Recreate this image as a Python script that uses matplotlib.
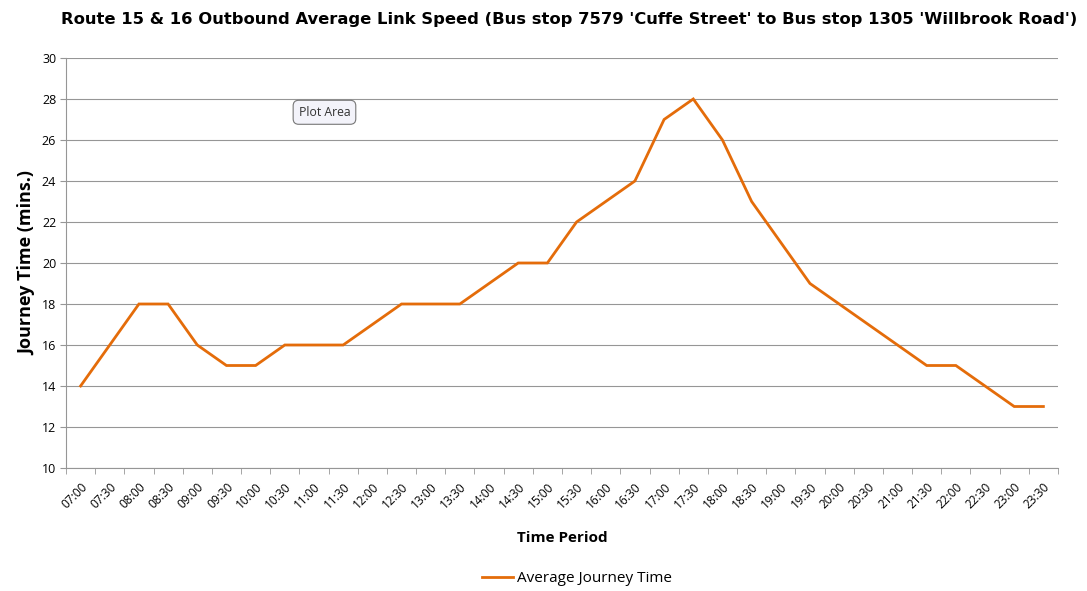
import matplotlib.pyplot as plt
import numpy as np

# half-hour time slots and average journey time (mins) per slot
periods = ["07:00", "07:30", "08:00", "08:30", "09:00", "09:30", "10:00", "10:30",
           "11:00", "11:30", "12:00", "12:30", "13:00", "13:30", "14:00", "14:30",
           "15:00", "15:30", "16:00", "16:30", "17:00", "17:30", "18:00", "18:30",
           "19:00", "19:30", "20:00", "20:30", "21:00", "21:30", "22:00", "22:30",
           "23:00", "23:30"]
journey_time = [14, 16, 18, 18, 16, 15, 15, 16,
                16, 16, 17, 18, 18, 18, 19, 20,
                20, 22, 23, 24, 27, 28, 26, 23,
                21, 19, 18, 17, 16, 15, 15, 14,
                13, 13]

title = "Route 15 & 16 Outbound Average Link Speed (Bus stop 7579 'Cuffe Street' to Bus stop 1305 'Willbrook Road')"

plt.rcParams['font.family'] = ['Open Sans', 'DejaVu Sans']

fig = plt.figure(figsize=(10.87, 5.91), dpi=100)
ax = fig.add_axes([0.0607, 0.2081, 0.9126, 0.6938])

x = np.arange(len(periods))
line, = ax.plot(x, journey_time, color='#E46C0A', lw=2.0, solid_joinstyle='miter',
                label="Average Journey Time")

ax.set_xlim(-0.5, len(periods) - 0.5)
ax.set_ylim(10, 30)
ax.set_yticks(np.arange(10, 31, 2))
ax.grid(axis='y', color='#969696', lw=0.8)
ax.set_axisbelow(True)

# labels sit on the categories, tick marks fall between them
ax.set_xticks(x)
ax.set_xticklabels(periods, rotation=45, ha='right', rotation_mode='anchor', fontsize=8.6)
ax.set_xticks(np.arange(-0.5, len(periods)), minor=True)
ax.tick_params(axis='x', which='major', length=0, pad=9)
ax.tick_params(axis='x', which='minor', length=4, color='#969696', direction='out')
ax.tick_params(axis='y', length=4, color='#969696', labelsize=9, pad=3)

for s in ['top', 'right']:
    ax.spines[s].set_visible(False)
for s in ['left', 'bottom']:
    ax.spines[s].set_color('#969696')

ax.set_ylabel("Journey Time (mins.)", fontsize=13, fontweight='bold', labelpad=4)
fig.text(0.517, 0.09, "Time Period", fontsize=11, fontweight='bold', ha='center', va='center')
fig.text(0.524, 0.967, title, fontsize=11.8, fontweight='bold', ha='center', va='center',
         family=['Liberation Sans Narrow', 'DejaVu Sans'])

fig.legend(handles=[line], loc='center', bbox_to_anchor=(0.531, 0.021), frameon=False,
           fontsize=11, handlelength=2.0, handletextpad=0.3)

# the "Plot Area" hover box
fig.text(0.2985, 0.81, "Plot Area", fontsize=8.8, ha='center', va='center', color='#333333',
         bbox=dict(boxstyle='round,pad=0.45', fc='#f3f3fa', ec='#777777', lw=0.8))

fig.savefig("out.png", dpi=100)
